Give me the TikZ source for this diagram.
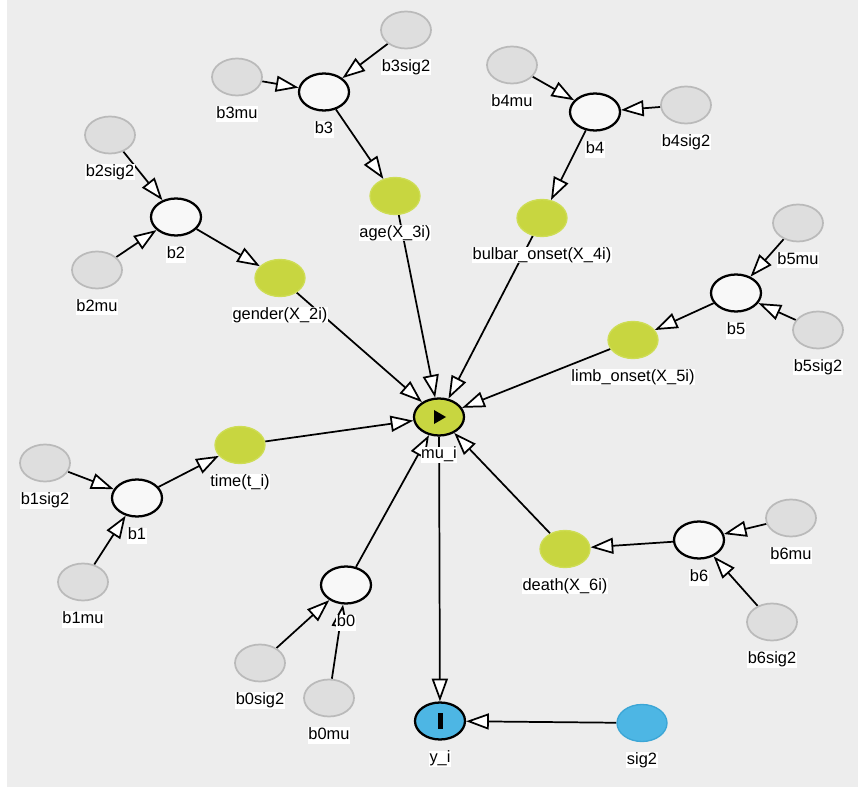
\documentclass[tikz,border=0pt]{standalone}
\usepackage{fontspec}
\setmainfont{Liberation Sans}
\usetikzlibrary{arrows.meta,shapes.geometric,backgrounds}
\definecolor{bgray}{HTML}{EDEDED}
\definecolor{hypfill}{HTML}{DEDEDE}
\definecolor{hypdraw}{HTML}{BABABA}
\definecolor{coeffill}{HTML}{F8F8F8}
\definecolor{covfill}{HTML}{C8D640}
\definecolor{covdraw}{HTML}{CEDD55}
\definecolor{obsfill}{HTML}{4DB6E4}
\definecolor{obsdraw}{HTML}{3CA6D6}

\begin{document}
\begin{tikzpicture}[
  x=0.75pt, y=-0.75pt,
  font=\fontsize{12.3}{14}\selectfont,
  label distance=13.5pt,
  lbl/.style={anchor=center, fill=white, inner sep=0.5pt,
              text height=8.7pt, text depth=2.5pt},
  nodebase/.style={ellipse, minimum width=37.5pt, minimum height=27.75pt,
              inner sep=0pt},
  hyper/.style={nodebase, fill=hypfill, draw=hypdraw, line width=1.3pt},
  coef/.style={nodebase, fill=coeffill, draw=black, line width=1.7pt},
  cov/.style={nodebase, fill=covfill, draw=covdraw, line width=1pt},
  mean/.style={nodebase, fill=covfill, draw=black, line width=1.7pt},
  obs/.style={nodebase, fill=obsfill, draw=black, line width=1.7pt},
  prec/.style={nodebase, fill=obsfill, draw=obsdraw, line width=1pt},
  arr/.style={line width=1.3pt, black,
              -{Triangle[open, fill=white, length=17pt, width=12pt]}},
]
\useasboundingbox (0,0) rectangle (858,788);

% central node and data
\node[mean, label={[lbl]below:mu\_i}] (mu) at (439,417) {};
\node[obs,  label={[lbl]below:y\_i}]  (yi) at (440,721) {};
\node[prec, label={[lbl]below:sig2}]  (sig2) at (642,723) {};

% covariates
\node[cov, label={[lbl]below:time(t\_i)}]          (time)   at (240,445) {};
\node[cov, label={[lbl]below:gender(X\_2i)}]       (gender) at (280,278) {};
\node[cov, label={[lbl]below:age(X\_3i)}]          (age)    at (395,196) {};
\node[cov, label={[lbl]below:bulbar\_onset(X\_4i)}] (bulbar) at (542,218) {};
\node[cov, label={[lbl]below:limb\_onset(X\_5i)}]  (limb)   at (633,340) {};
\node[cov, label={[lbl]below:death(X\_6i)}]        (death)  at (565,549) {};

% coefficients
\node[coef, label={[lbl]below:b0}] (b0) at (346,585) {};
\node[coef, label={[lbl]below:b1}] (b1) at (137,498) {};
\node[coef, label={[lbl]below:b2}] (b2) at (176,217) {};
\node[coef, label={[lbl]below:b3}] (b3) at (324,92) {};
\node[coef, label={[lbl]below:b4}] (b4) at (595,112) {};
\node[coef, label={[lbl]below:b5}] (b5) at (736,293) {};
\node[coef, label={[lbl]below:b6}] (b6) at (699,540) {};

% hyperparameters
\node[hyper, label={[lbl]below:b0mu}]   (b0mu)   at (329,698) {};
\node[hyper, label={[lbl]below:b0sig2}] (b0sig2) at (260,663) {};
\node[hyper, label={[lbl]below:b1mu}]   (b1mu)   at (83,582) {};
\node[hyper, label={[lbl]below:b1sig2}] (b1sig2) at (45,463) {};
\node[hyper, label={[lbl]below:b2mu}]   (b2mu)   at (97,270) {};
\node[hyper, label={[lbl]below:b2sig2}] (b2sig2) at (110,135) {};
\node[hyper, label={[lbl]below:b3mu}]   (b3mu)   at (237,77) {};
\node[hyper, label={[lbl]below:b3sig2}] (b3sig2) at (406,30) {};
\node[hyper, label={[lbl]below:b4mu}]   (b4mu)   at (512,65) {};
\node[hyper, label={[lbl]below:b4sig2}] (b4sig2) at (686,105) {};
\node[hyper, label={[lbl]below:b5mu}]   (b5mu)   at (798,223) {};
\node[hyper, label={[lbl]below:b5sig2}] (b5sig2) at (818,330) {};
\node[hyper, label={[lbl]below:b6mu}]   (b6mu)   at (791,518) {};
\node[hyper, label={[lbl]below:b6sig2}] (b6sig2) at (772,622) {};

% icons
\fill ([shift={(-5,-7)}]mu.center) -- ++(12,7) -- ++(-12,7) -- cycle;
\fill ([shift={(-2.5,-8)}]yi.center) rectangle ++(5,16);

\begin{scope}[on background layer]
\fill[bgray] (7,0) rectangle (858,787);

\draw[arr] (b0mu) -- (b0);
\draw[arr] (b0sig2) -- (b0);
\draw[arr] (b1mu) -- (b1);
\draw[arr] (b1sig2) -- (b1);
\draw[arr] (b2mu) -- (b2);
\draw[arr] (b2sig2) -- (b2);
\draw[arr] (b3mu) -- (b3);
\draw[arr] (b3sig2) -- (b3);
\draw[arr] (b4mu) -- (b4);
\draw[arr] (b4sig2) -- (b4);
\draw[arr] (b5mu) -- (b5);
\draw[arr] (b5sig2) -- (b5);
\draw[arr] (b6mu) -- (b6);
\draw[arr] (b6sig2) -- (b6);

\draw[arr] (b1) -- (time);
\draw[arr] (b2) -- (gender);
\draw[arr] (b3) -- (age);
\draw[arr] (b4) -- (bulbar);
\draw[arr] (b5) -- (limb);
\draw[arr] (b6) -- (death);

\draw[arr] (b0) -- (mu);
\draw[arr] (time) -- (mu);
\draw[arr] (gender) -- (mu);
\draw[arr] (age) -- (mu);
\draw[arr] (bulbar) -- (mu);
\draw[arr] (limb) -- (mu);
\draw[arr] (death) -- (mu);

\draw[arr] (mu) -- (yi);
\draw[arr] (sig2) -- (yi);
\end{scope}
\end{tikzpicture}
\end{document}
